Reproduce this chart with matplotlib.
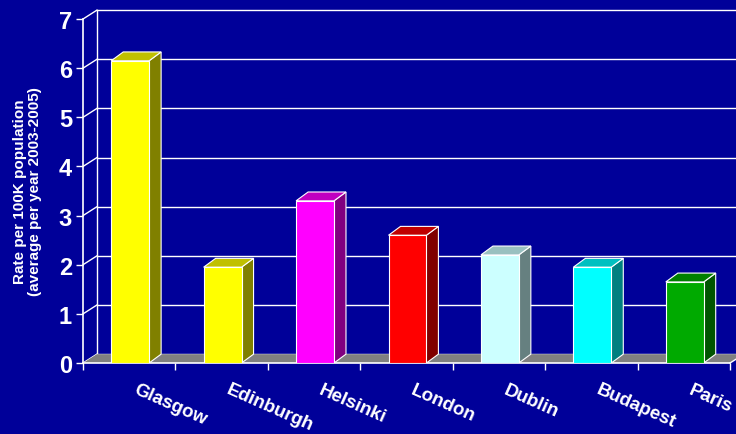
import matplotlib
matplotlib.use('Agg')
import matplotlib.pyplot as plt
import matplotlib.patches as patches

# Data
cities = ['Glasgow', 'Edinburgh', 'Helsinki', 'London', 'Dublin', 'Budapest', 'Paris']
rates = [6.15, 1.95, 3.3, 2.6, 2.2, 1.95, 1.65]
yticks = [0, 1, 2, 3, 4, 5, 6, 7]

# face colours: front, side, top
front_cols = ['#FFFF00', '#FFFF00', '#FF00FF', '#FF0000', '#CCFFFF', '#00FFFF', '#00AA00']
side_cols = ['#808000', '#808000', '#800080', '#800000', '#668080', '#008080', '#005500']
top_cols = ['#C0C000', '#C0C000', '#C000C0', '#C00000', '#99C0C0', '#00C0C0', '#008000']

bg = '#000099'
plt.rcParams['font.family'] = ['Liberation Sans', 'DejaVu Sans']

fig = plt.figure(figsize=(7.36, 4.35), dpi=100, facecolor=bg)
ax = fig.add_axes([0.1128, 0.1632, 0.8791, 0.7908])
ax.set_facecolor(bg)
ax.set_xlim(0, len(cities))
ax.set_ylim(0, 7)
for s in ax.spines.values():
    s.set_visible(False)

# depth offsets in data units
fdx, fdy = 0.15, 0.18   # floor / walls
bdx, bdy = 0.13, 0.18   # bars
n = len(cities)

# floor
floor = patches.Polygon([[0, 0], [n, 0], [n + fdx, fdy], [fdx, fdy]], closed=True,
                        facecolor='#808080', edgecolor='none', clip_on=False, zorder=1)
ax.add_patch(floor)

# back wall grid + left wall diagonals
for v in yticks:
    ax.plot([fdx, n + fdx], [v + fdy, v + fdy], color='white', lw=1, clip_on=False, zorder=0.5)
    ax.plot([0, fdx], [v, v + fdy], color='white', lw=1, clip_on=False, zorder=0.5)
ax.plot([fdx, fdx], [fdy, 7 + fdy], color='white', lw=1, clip_on=False, zorder=0.5)
ax.plot([0, 0], [0, 7], color='white', lw=1.2, clip_on=False, zorder=3)
ax.plot([0, n], [0, 0], color='white', lw=1.2, clip_on=False, zorder=3)
ax.plot([n, n + fdx], [0, fdy], color='white', lw=1, clip_on=False, zorder=1.5)

# bars
xs = [i + 0.51 for i in range(n)]
w = 0.41
bars = ax.bar(xs, rates, width=w, color=front_cols, edgecolor='white', linewidth=0.8, zorder=4)
for b, h, sc, tc in zip(bars, rates, side_cols, top_cols):
    x0 = b.get_x()
    x1 = x0 + b.get_width()
    side = patches.Polygon([[x1, 0], [x1 + bdx, bdy], [x1 + bdx, h + bdy], [x1, h]], closed=True,
                           facecolor=sc, edgecolor='white', lw=0.8, zorder=3.5)
    top = patches.Polygon([[x0, h], [x0 + bdx, h + bdy], [x1 + bdx, h + bdy], [x1, h]], closed=True,
                          facecolor=tc, edgecolor='white', lw=0.8, zorder=3.5)
    ax.add_patch(side)
    ax.add_patch(top)

# ticks
ax.set_yticks(yticks)
ax.set_yticklabels([str(v) for v in yticks], color='white', fontsize=17, fontweight='bold')
ax.tick_params(axis='y', colors='white', length=5, width=1, pad=3)
ax.set_xticks(range(n + 1))
ax.set_xticklabels([])
ax.tick_params(axis='x', colors='white', length=5, width=1)

for i, c in enumerate(cities):
    ax.text(i + 0.56, -0.52, c, rotation=-24, rotation_mode='anchor', ha='left', va='center',
            color='white', fontsize=13.5, fontweight='bold', clip_on=False)

ax.set_ylabel('Rate per 100K population\n(average per year 2003-2005)', color='white',
              fontsize=11, fontweight='bold', labelpad=12, linespacing=1.1)

fig.savefig('out.png', dpi=100, facecolor=bg)
